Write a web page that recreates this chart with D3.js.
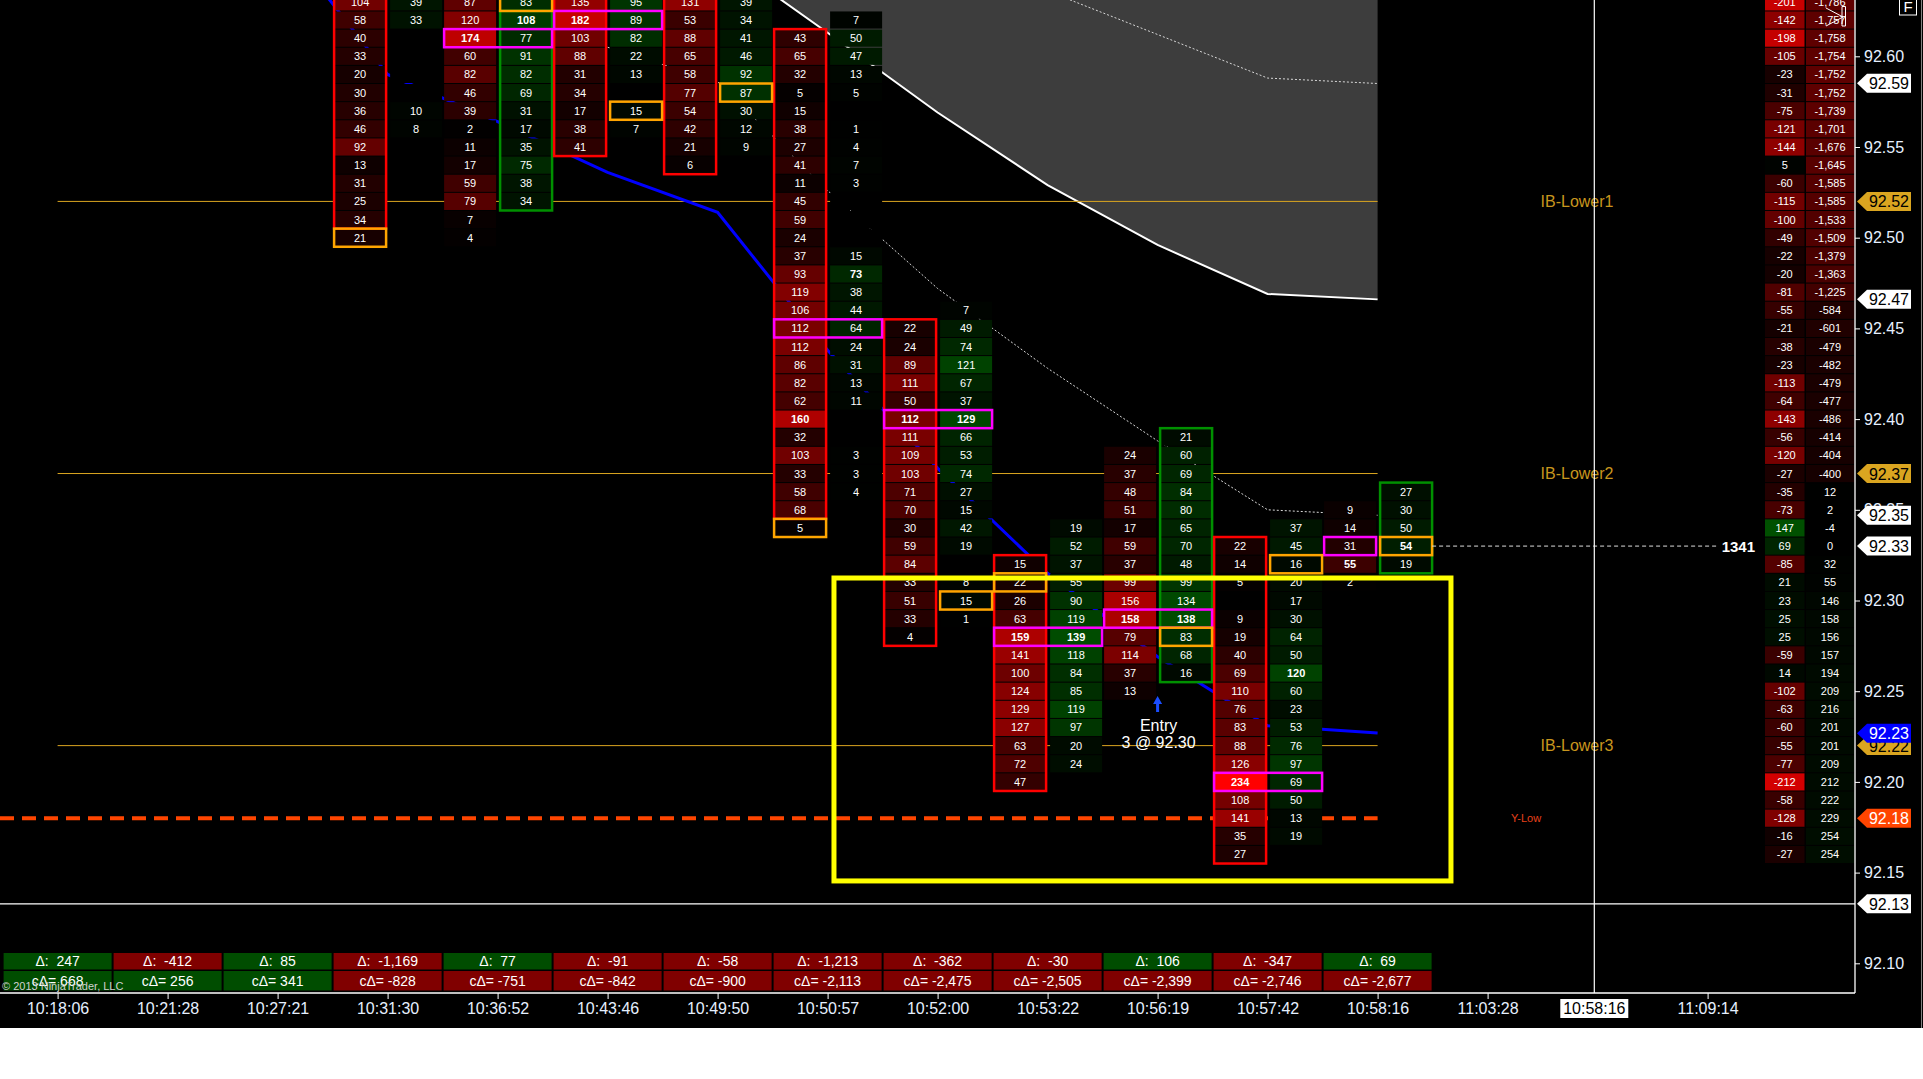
<!DOCTYPE html>
<html><head><meta charset="utf-8">
<script src="https://cdn.jsdelivr.net/npm/d3@7"></script>
<style>
html,body{margin:0;padding:0;background:#fff;overflow:hidden;}
svg{display:block;font-family:Arial,"Liberation Sans",sans-serif;}
</style></head><body>
<svg id="chart" width="1923" height="1079"></svg>
<script>
// ---------------- DATA ----------------
const barTimes = ["10:18:06","10:21:28","10:27:21","10:31:30","10:36:52","10:43:46","10:49:50","10:50:57","10:52:00","10:53:22","10:56:19","10:57:42","10:58:16"];
const futureTimes = [{slot:13,label:"11:03:28"},{slot:15,label:"11:09:14"}];
const barDelta = [247,-412,85,-1169,77,-91,-58,-1213,-362,-30,106,-347,69];
const barCumDelta = [668,256,341,-828,-751,-842,-900,-2113,-2475,-2505,-2399,-2746,-2677];

// footprint: top price of each bar's visible rows (bars 0-2 are above view)
const fpBars = [3,4,5,6,7,8,9,10,11,12];
const fpTop  = [92.63,92.63,92.63,92.63,92.62,92.46,92.34,92.39,92.34,92.36];
const bid3 = [104,58,40,33,20,30,36,46,92,13,31,25,34,21];
const ask3 = [39,33,null,null,null,null,10,8,null,null,null,null,null,null];
const bid4 = [87,120,174,60,82,46,39,2,11,17,59,79,7,4];
const ask4 = [83,108,77,91,82,69,31,17,35,75,38,34,null,null];
const bid5 = [135,182,103,88,31,34,17,38,41];
const ask5 = [95,89,82,22,13,null,15,7,null];
const bid6 = [131,53,88,65,58,77,54,42,21,6];
const ask6 = [39,34,41,46,92,87,30,12,9,null];
const bid7 = [null,43,65,32,5,15,38,27,41,11,45,59,24,37,93,119,106,112,112,86,82,62,160,32,103,33,58,68,5];
const ask7 = [7,50,47,13,5,null,1,4,7,3,null,null,null,15,73,38,44,64,24,31,13,11,null,null,3,3,4,null,null];
const bid8 = [null,22,24,89,111,50,112,111,109,103,71,70,30,59,84,33,51,33,4];
const ask8 = [7,49,74,121,67,37,129,66,53,74,27,15,42,19,null,8,15,1,null];
const bid9 = [null,null,15,22,26,63,159,141,100,124,129,127,63,72,47];
const ask9 = [19,52,37,55,90,119,139,118,84,85,119,97,20,24,null];
const bid10 = [null,24,37,48,51,17,59,37,99,156,158,79,114,37,13];
const ask10 = [21,60,69,84,80,65,70,48,99,134,138,83,68,16,null];
const bid11 = [null,22,14,5,null,9,19,40,69,110,76,83,88,126,234,108,141,35,27];
const ask11 = [37,45,16,20,17,30,64,50,120,60,23,53,76,97,69,50,13,19,null];
const bid12 = [null,9,14,31,55,2];
const ask12 = [27,30,50,54,19,null];
const fpBid = [bid3,bid4,bid5,bid6,bid7,bid8,bid9,bid10,bid11,bid12];
const fpAsk = [ask3,ask4,ask5,ask6,ask7,ask8,ask9,ask10,ask11,ask12];

// bar body outlines: [bar, side, topPrice, bottomPrice]
const bodyBoxes = [[3,"bid",92.64,92.51],[4,"ask",92.62,92.52],[5,"bid",92.64,92.55],[6,"bid",92.64,92.54],
  [7,"bid",92.61,92.35],[8,"bid",92.45,92.28],[9,"bid",92.32,92.20],[10,"ask",92.39,92.26],[11,"bid",92.33,92.16],[12,"ask",92.36,92.32]];
const orangeCells = [[3,"bid",92.50],[4,"ask",92.63],[5,"ask",92.57],[6,"ask",92.58],[7,"bid",92.34],[8,"ask",92.30],[9,"bid",92.31],[10,"ask",92.28],[11,"ask",92.32],[12,"ask",92.33]];
const magentaCells = [[4,"both",92.61],[5,"both",92.62],[7,"both",92.45],[8,"both",92.40],[9,"both",92.28],[10,"both",92.29],[11,"both",92.20],[12,"bid",92.33]];
const boldCells = [[4,"bid",92.61],[4,"ask",92.62],[5,"bid",92.62],[7,"ask",92.48],[7,"bid",92.40],[8,"bid",92.40],[8,"ask",92.40],[9,"bid",92.28],[9,"ask",92.28],[10,"bid",92.29],[10,"ask",92.29],[11,"ask",92.26],[11,"bid",92.20],[12,"bid",92.32],[12,"ask",92.33]];

// right-hand volume profile columns (top price 92.63, step 0.01)
const rpTop = 92.63;
const rpDelta = [-201,-142,-198,-105,-23,-31,-75,-121,-144,5,-60,-115,-100,-49,-22,-20,-81,-55,-21,-38,-23,-113,-64,-143,-56,-120,-27,-35,-73,147,69,-85,21,23,25,25,-59,14,-102,-63,-60,-55,-77,-212,-58,-128,-16,-27];
const rpCum = [-1786,-1757,-1758,-1754,-1752,-1752,-1739,-1701,-1676,-1645,-1585,-1585,-1533,-1509,-1379,-1363,-1225,-584,-601,-479,-482,-479,-477,-486,-414,-404,-400,12,2,-4,0,32,55,146,158,156,157,194,209,216,201,201,209,212,222,229,254,254];

// indicator lines (slot, price)
const blueSlots = [2,3,4,5,6,7,8,9,10,11,12];
const blueVals  = [92.668,92.590,92.564,92.536,92.514,92.438,92.373,92.315,92.269,92.231,92.227];
const bandSlots = [6,7,8,9,10,11,12];
const bandVals  = [92.656,92.613,92.569,92.529,92.496,92.469,92.466];
const upDotSlots = [9,10,11,12];
const upDotVals  = [92.636,92.612,92.588,92.585];
const loDotSlots = [5,6,7,8,9,10,11,12];
const loDotVals  = [92.605,92.586,92.526,92.472,92.428,92.388,92.350,92.347];

const ibLevels = [{name:"IB-Lower1",price:92.52},{name:"IB-Lower2",price:92.37},{name:"IB-Lower3",price:92.22}];
const yLow = {name:"Y-Low",price:92.18};
const volLine = {price:92.33,label:"1341"};
const entry = {slot:10,text1:"Entry",text2:"3 @ 92.30"};
const focusBox = {slot0:7.058,slot1:12.667,pTop:92.3124,pBot:92.1454};
const priceTicks = [92.10,92.15,92.20,92.25,92.30,92.35,92.40,92.45,92.50,92.55,92.60];
const flags = [
  {p:92.5851,label:"92.59",fill:"#ffffff",tc:"#000"},
  {p:92.52,label:"92.52",fill:"#daa520",tc:"#000"},
  {p:92.4661,label:"92.47",fill:"#ffffff",tc:"#000"},
  {p:92.37,label:"92.37",fill:"#daa520",tc:"#000"},
  {p:92.347,label:"92.35",fill:"#ffffff",tc:"#000"},
  {p:92.33,label:"92.33",fill:"#ffffff",tc:"#000"},
  {p:92.22,label:"92.22",fill:"#daa520",tc:"#000"},
  {p:92.2268,label:"92.23",fill:"#0000ff",tc:"#fff"},
  {p:92.18,label:"92.18",fill:"#ff4500",tc:"#fff"},
  {p:92.1328,label:"92.13",fill:"#ffffff",tc:"#000"}
];
const crossPrice = 92.1328, crossSlot = 13.97, crossTime = "10:58:16";

// ---------------- DRAW ----------------
const svg = d3.select("#chart");
const W = 1923, plotBottom = 993, axisX = 1855, chartBottom = 1028;
const x = d3.scaleLinear().domain([0,15]).range([57.6, 57.6+1650]);
const y = d3.scaleLinear().domain([92.10,92.60]).range([963.3,56.3]);
const rowH = y(92.59)-y(92.60);
const fmt = d3.formatLocale({decimal:".",thousands:",",grouping:[3],currency:["$",""],minus:"-"}).format(",");
const r2 = v => Math.round(v*100)/100;

svg.append("rect").attr("x",0).attr("y",0).attr("width",W).attr("height",chartBottom).attr("fill","#000");
svg.append("line").attr("x1",1921.5).attr("x2",1921.5).attr("y1",0).attr("y2",chartBottom).attr("stroke","#808080");

const plot = svg.append("g");
// gray band fill
const band = bandSlots.map((s,i)=>({s,v:bandVals[i]}));
plot.append("path").datum(band)
  .attr("d", d3.area().x(d=>x(d.s)).y0(0).y1(d=>y(d.v)))
  .attr("fill","#3d3d3d");
plot.append("path").datum(band).attr("d", d3.line().x(d=>x(d.s)).y(d=>y(d.v)))
  .attr("fill","none").attr("stroke","#fff").attr("stroke-width",2);
[[upDotSlots,upDotVals],[loDotSlots,loDotVals]].forEach(([ss,vv])=>{
  plot.append("path").datum(ss.map((s,i)=>({s,v:vv[i]})))
    .attr("d", d3.line().x(d=>x(d.s)).y(d=>y(d.v)))
    .attr("fill","none").attr("stroke","#d8d8d8").attr("stroke-width",1).attr("stroke-dasharray","2,2");
});
// IB lines
ibLevels.forEach(l=>{
  plot.append("line").attr("x1",x(0)).attr("x2",x(12)).attr("y1",y(l.price)).attr("y2",y(l.price))
    .attr("stroke","#daa520").attr("stroke-width",1);
  plot.append("text").attr("x",1577).attr("y",y(l.price)+5.5).attr("text-anchor","middle")
    .attr("font-size",16).attr("fill","#c8961e").text(l.name);
});
// Y-Low
plot.append("line").attr("x1",0).attr("x2",x(12)).attr("y1",y(yLow.price)).attr("y2",y(yLow.price))
  .attr("stroke","#ff4500").attr("stroke-width",4).attr("stroke-dasharray","14,8");
plot.append("text").attr("x",1526).attr("y",y(yLow.price)+4).attr("text-anchor","middle")
  .attr("font-size",11).attr("fill","#e8401a").text(yLow.name);
// blue line
plot.append("path").datum(blueSlots.map((s,i)=>({s,v:blueVals[i]})))
  .attr("d", d3.line().x(d=>x(d.s)).y(d=>y(d.v)))
  .attr("fill","none").attr("stroke","#0000ff").attr("stroke-width",3);

// footprint cells
const bidCol = d3.scaleLinear().domain([0,234]).range(["#000000","#ff0000"]).clamp(true);
const askCol = d3.scaleLinear().domain([0,234]).range(["#000000","#008000"]).clamp(true);
const colX = (i,side)=> side==="bid" ? x(i)-53.5 : x(i)+2.5;
const colW = 52;
const key = (i,side,p)=> i+"|"+side+"|"+r2(p).toFixed(2);
const boldSet = new Set(boldCells.map(c=>key(c[0],c[1],c[2])));
const cells = [];
fpBars.forEach((b,k)=>{
  ["bid","ask"].forEach(side=>{
    const arr = side==="bid"?fpBid[k]:fpAsk[k];
    const idx = arr.map((v,j)=>v===null?-1:j).filter(j=>j>=0);
    const first = d3.min(idx), last = d3.max(idx);
    arr.forEach((v,j)=>{ if(j>=first && j<=last) cells.push({b,side,p:r2(fpTop[k]-j*0.01),v}); });
  });
});
const cg = svg.append("g");
cg.selectAll("rect").data(cells).join("rect")
  .attr("x",d=>colX(d.b,d.side)).attr("y",d=>y(d.p)-rowH/2+0.5)
  .attr("width",colW).attr("height",rowH-1)
  .attr("fill",d=>d.v===null?"#000":(d.side==="bid"?bidCol(d.v):askCol(d.v)));
cg.selectAll("text").data(cells.filter(d=>d.v!==null)).join("text")
  .attr("x",d=>colX(d.b,d.side)+colW/2).attr("y",d=>y(d.p)+4)
  .attr("text-anchor","middle").attr("font-size",11).attr("fill","#fff")
  .attr("font-weight",d=>boldSet.has(key(d.b,d.side,d.p))?"bold":"normal")
  .text(d=>d.v);

// outlines
const og = svg.append("g").attr("fill","none").attr("stroke-width",2.5);
bodyBoxes.forEach(([b,side,pt,pb])=>{
  og.append("rect").attr("x",colX(b,side)).attr("width",colW)
    .attr("y",y(pt)-rowH/2).attr("height",y(pb)-y(pt)+rowH)
    .attr("stroke", side==="bid"?"#ff0000":"#009000");
});
magentaCells.forEach(([b,side,p])=>{
  const x0 = side==="ask"?colX(b,"ask"):colX(b,"bid");
  const x1 = side==="bid"?colX(b,"bid")+colW:colX(b,"ask")+colW;
  og.append("rect").attr("x",x0).attr("width",x1-x0).attr("y",y(p)-rowH/2).attr("height",rowH).attr("stroke","#ff00ff");
});
orangeCells.forEach(([b,side,p])=>{
  og.append("rect").attr("x",colX(b,side)).attr("width",colW).attr("y",y(p)-rowH/2).attr("height",rowH).attr("stroke","#ffa500");
});

// volume line "1341"
svg.append("line").attr("x1",colX(12,"ask")+colW).attr("x2",1718).attr("y1",y(volLine.price)).attr("y2",y(volLine.price))
  .attr("stroke","#ddd").attr("stroke-width",1).attr("stroke-dasharray","4,3");
svg.append("text").attr("x",1755).attr("y",y(volLine.price)+5.5).attr("text-anchor","end")
  .attr("font-size",15).attr("font-weight","bold").attr("fill","#fff").text(volLine.label);

// Entry marker
const ex = x(entry.slot);
svg.append("path").attr("d",`M${ex},696 L${ex-4.5},704 L${ex-1.5},704 L${ex-1.5},712 L${ex+1.5},712 L${ex+1.5},704 L${ex+4.5},704 Z`).attr("fill","#1a4dff");
svg.append("text").attr("x",ex+1).attr("y",731).attr("text-anchor","middle").attr("font-size",16).attr("fill","#fff").text(entry.text1);
svg.append("text").attr("x",ex+1).attr("y",748).attr("text-anchor","middle").attr("font-size",16).attr("fill","#fff").text(entry.text2);

// yellow focus rectangle
svg.append("rect").attr("x",x(focusBox.slot0)).attr("y",y(focusBox.pTop))
  .attr("width",x(focusBox.slot1)-x(focusBox.slot0)).attr("height",y(focusBox.pBot)-y(focusBox.pTop))
  .attr("fill","none").attr("stroke","#ffff00").attr("stroke-width",5);

// right profile columns
const rpACol = v => v<0 ? d3.scaleLinear().domain([0,212]).range(["#000","#d20000"])(-v) : d3.scaleLinear().domain([0,212]).range(["#000","#007300"])(v);
const rpBCol = v => v<0 ? d3.scaleLinear().domain([0,1786]).range(["#000","#600000"])(-v) : d3.scaleLinear().domain([0,1786]).range(["#000","#005a00"])(v);
const rp = rpDelta.map((v,j)=>({p:r2(rpTop-j*0.01),a:v,b:rpCum[j]}));
const rg = svg.append("g");
rg.selectAll("rect.a").data(rp).join("rect").attr("class","a")
  .attr("x",1765).attr("width",39.5).attr("y",d=>y(d.p)-rowH/2+0.5).attr("height",rowH-1).attr("fill",d=>rpACol(d.a));
rg.selectAll("rect.b").data(rp).join("rect").attr("class","b")
  .attr("x",1806).attr("width",48.5).attr("y",d=>y(d.p)-rowH/2+0.5).attr("height",rowH-1).attr("fill",d=>rpBCol(d.b));
rg.selectAll("text.a").data(rp).join("text").attr("class","a")
  .attr("x",1784.7).attr("y",d=>y(d.p)+4).attr("text-anchor","middle").attr("font-size",11).attr("fill","#fff").text(d=>fmt(d.a));
rg.selectAll("text.b").data(rp).join("text").attr("class","b")
  .attr("x",1830).attr("y",d=>y(d.p)+4).attr("text-anchor","middle").attr("font-size",11).attr("fill","#fff").text(d=>fmt(d.b));
// small chart-trader icon
svg.append("path").attr("d","M1842,6.5 h3.5 v19.5 h-3.5 Z M1826,8 L1843,17 L1826,26").attr("fill","none").attr("stroke","#fff").attr("stroke-width",1);

// crosshair
svg.append("line").attr("x1",x(crossSlot)).attr("x2",x(crossSlot)).attr("y1",0).attr("y2",plotBottom).attr("stroke","#fff").attr("stroke-width",1.2);
svg.append("line").attr("x1",0).attr("x2",axisX).attr("y1",y(crossPrice)).attr("y2",y(crossPrice)).attr("stroke","#fff").attr("stroke-width",1.2);

// axes frames
svg.append("line").attr("x1",axisX).attr("x2",axisX).attr("y1",0).attr("y2",plotBottom).attr("stroke","#fff").attr("stroke-width",1.3);
svg.append("line").attr("x1",0).attr("x2",axisX).attr("y1",plotBottom).attr("y2",plotBottom).attr("stroke","#fff").attr("stroke-width",1.3);

const ya = svg.append("g").attr("transform",`translate(${axisX},0)`)
  .call(d3.axisRight(y).tickValues(priceTicks).tickSize(5).tickPadding(4).tickFormat(d3.format(".2f")));
ya.select(".domain").remove();
ya.selectAll("line").attr("stroke","#fff");
ya.selectAll("text").attr("fill","#e6f0ff").attr("font-size",16).attr("font-family","Arial, 'Liberation Sans', sans-serif");

const timeLabel = d => d<13 ? barTimes[d] : (futureTimes.find(f=>f.slot===d)||{label:""}).label;
const xa = svg.append("g").attr("transform",`translate(0,${plotBottom})`)
  .call(d3.axisBottom(x).tickValues(d3.range(0,13).concat(futureTimes.map(f=>f.slot))).tickSize(6).tickPadding(4).tickFormat(timeLabel));
xa.select(".domain").remove();
xa.selectAll("line").attr("stroke","#fff");
xa.selectAll("text").attr("fill","#e6f0ff").attr("font-size",16).attr("font-family","Arial, 'Liberation Sans', sans-serif");

// crosshair time label
svg.append("rect").attr("x",x(crossSlot)-34).attr("y",999).attr("width",68).attr("height",19).attr("fill","#fff");
svg.append("text").attr("x",x(crossSlot)).attr("y",1014).attr("text-anchor","middle").attr("font-size",16).attr("fill","#000").text(crossTime);

// price flags
const fg = svg.append("g");
flags.forEach(f=>{
  const cy = y(f.p);
  fg.append("path").attr("d",`M1857,${cy} L1867,${cy-9.5} L1911,${cy-9.5} L1911,${cy+9.5} L1867,${cy+9.5} Z`).attr("fill",f.fill);
  fg.append("text").attr("x",1889).attr("y",cy+6).attr("text-anchor","middle").attr("font-size",16).attr("fill",f.tc).text(f.label);
});
// F box
svg.append("rect").attr("x",1899.5).attr("y",-1).attr("width",17).attr("height",16).attr("fill","#000").attr("stroke","#fff");
svg.append("text").attr("x",1908).attr("y",12).attr("text-anchor","middle").attr("font-size",15).attr("fill","#fff").text("F");

// delta boxes
const dg = svg.append("g");
barDelta.forEach((v,i)=>{
  const cx = x(i);
  dg.append("rect").attr("x",cx-54).attr("y",953).attr("width",108).attr("height",16.5).attr("fill",v>=0?"#004d00":"#800000");
  dg.append("text").attr("x",cx).attr("y",966).attr("text-anchor","middle").attr("font-size",14).attr("fill","#fff")
    .attr("xml:space","preserve").style("white-space","pre").text("Δ:  "+fmt(v));
  const c = barCumDelta[i];
  dg.append("rect").attr("x",cx-54).attr("y",971).attr("width",108).attr("height",19.5).attr("fill",c>=0?"#004d00":"#800000");
  dg.append("text").attr("x",cx).attr("y",986).attr("text-anchor","middle").attr("font-size",14).attr("fill","#fff").text("cΔ= "+fmt(c));
});
svg.append("text").attr("x",2).attr("y",990).attr("font-size",11).attr("fill","#d0d0d0").text("© 2013 NinjaTrader, LLC");
</script>
</body></html>
